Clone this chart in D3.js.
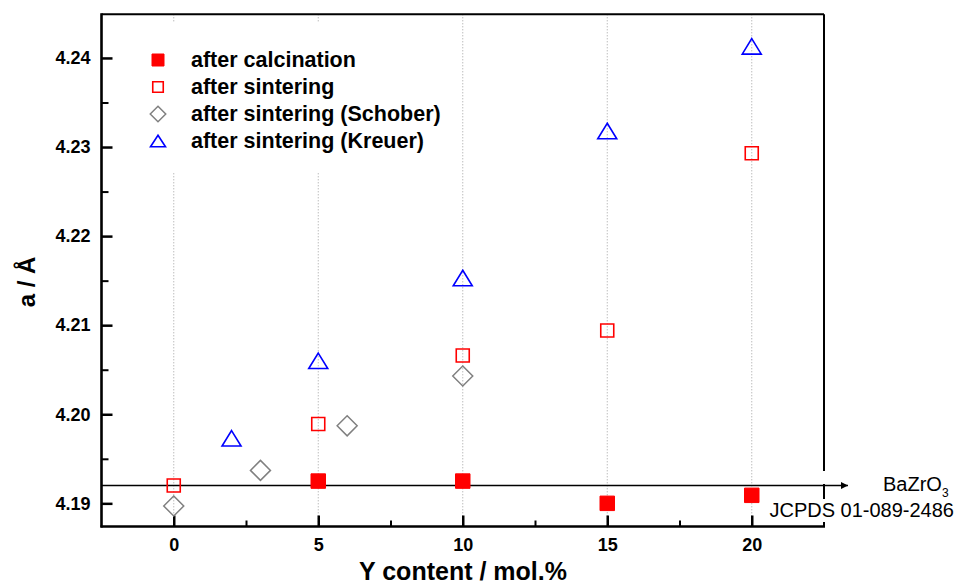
<!DOCTYPE html>
<html>
<head>
<meta charset="utf-8">
<script src="https://cdn.jsdelivr.net/npm/d3@7"></script>
<style>
  html, body { margin: 0; padding: 0; background: #fff; }
  svg { display: block; font-family: "Liberation Sans", Arial, sans-serif; }
</style>
</head>
<body>
<svg id="chart" width="957" height="585"></svg>
<script>
// Lattice parameter a of Y-doped BaZrO3 versus Y content
const xTickValues = [0, 5, 10, 15, 20];
const yTickValues = [4.19, 4.20, 4.21, 4.22, 4.23, 4.24];
const yTickLabels = ["4.19", "4.20", "4.21", "4.22", "4.23", "4.24"];

const calcinationX = [5, 10, 15, 20];
const calcinationY = [4.1925, 4.1925, 4.1900, 4.1909];

const sinteringX = [0, 5, 10, 15, 20];
const sinteringY = [4.1920, 4.1989, 4.2066, 4.2094, 4.2293];

const schoberX = [0, 3, 6, 10];
const schoberY = [4.1897, 4.1937, 4.1987, 4.2043];

const kreuerX = [2, 5, 10, 15, 20];
const kreuerY = [4.1973, 4.2060, 4.2153, 4.2318, 4.2413];

const referenceA = 4.192;
const referenceLabel = "BaZrO";
const referenceSub = "3";
const referenceCard = "JCPDS 01-089-2486";

const legendLabels = [
  "after calcination",
  "after sintering",
  "after sintering (Schober)",
  "after sintering (Kreuer)"
];

const svg = d3.select("#chart");
const plot = { left: 101.5, right: 824, top: 14.3, bottom: 526.5 };

const x = d3.scaleLinear().domain([-2.5, 22.5]).range([plot.left, plot.right]);
const y = d3.scaleLinear().domain([4.1874, 4.2449]).range([plot.bottom, plot.top]);

// vertical dotted grid at major x ticks
svg.append("g").selectAll("line").data(xTickValues).join("line")
  .attr("x1", d => x(d)).attr("x2", d => x(d))
  .attr("y1", plot.top).attr("y2", plot.bottom)
  .attr("stroke", "#a0a0a0").attr("stroke-width", 1)
  .attr("stroke-dasharray", "1,2");

// legend background hides the grid behind it
svg.append("rect").attr("x", 125).attr("y", 22).attr("width", 330).attr("height", 150)
  .attr("fill", "#fff");

// arrow head for the reference line
svg.append("defs").append("marker")
  .attr("id", "arrow").attr("viewBox", "0 0 10 10")
  .attr("refX", 10).attr("refY", 5)
  .attr("markerWidth", 9).attr("markerHeight", 7)
  .attr("markerUnits", "userSpaceOnUse")
  .attr("orient", "auto")
  .append("path").attr("d", "M0,0 L10,5 L0,10 Z").attr("fill", "#000");

// frame: top and right
svg.append("line").attr("x1", plot.left).attr("x2", plot.right).attr("y1", plot.top).attr("y2", plot.top)
  .attr("stroke", "#000").attr("stroke-width", 2);
svg.append("line").attr("x1", plot.right).attr("x2", plot.right).attr("y1", plot.top).attr("y2", plot.bottom)
  .attr("stroke", "#000").attr("stroke-width", 2);

// white boxes behind the reference annotation
svg.append("rect").attr("x", 818).attr("y", 471).attr("width", 139).attr("height", 13).attr("fill", "#fff");
svg.append("rect").attr("x", 766).attr("y", 499).attr("width", 191).attr("height", 23).attr("fill", "#fff");

svg.append("line")
  .attr("x1", plot.left).attr("x2", 848)
  .attr("y1", y(referenceA)).attr("y2", y(referenceA))
  .attr("stroke", "#000").attr("stroke-width", 1.5)
  .attr("marker-end", "url(#arrow)");

const refText = svg.append("text").attr("x", 883).attr("y", 491)
  .attr("font-size", 20).attr("fill", "#000");
refText.append("tspan").text(referenceLabel);
refText.append("tspan").attr("font-size", 12).attr("dy", 6).text(referenceSub);

svg.append("text").attr("x", 954).attr("y", 517).attr("text-anchor", "end")
  .attr("font-size", 20).attr("fill", "#000").text(referenceCard);

// axes (ticks pointing inward)
const xAxis = d3.axisBottom(x).tickValues(xTickValues).tickSize(-11).tickPadding(12)
  .tickFormat(d3.format("d"));
const gx = svg.append("g").attr("transform", `translate(0,${plot.bottom})`).call(xAxis);
gx.select(".domain").remove();
gx.selectAll(".tick line").attr("stroke", "#000").attr("stroke-width", 2.5);
gx.selectAll(".tick text").attr("font-size", 18).attr("font-weight", "bold")
  .attr("font-family", "Liberation Sans, Arial, sans-serif").attr("fill", "#000");

const gxMinor = svg.append("g").attr("transform", `translate(0,${plot.bottom})`)
  .call(d3.axisBottom(x).tickValues([2.5, 7.5, 12.5, 17.5]).tickSize(-6).tickFormat(""));
gxMinor.select(".domain").remove();
gxMinor.selectAll(".tick line").attr("stroke", "#000").attr("stroke-width", 2);

const yAxis = d3.axisLeft(y).tickValues(yTickValues).tickSize(-11).tickPadding(11)
  .tickFormat((d, i) => yTickLabels[i]);
const gy = svg.append("g").attr("transform", `translate(${plot.left},0)`).call(yAxis);
gy.select(".domain").remove();
gy.selectAll(".tick line").attr("stroke", "#000").attr("stroke-width", 2.5);
gy.selectAll(".tick text").attr("font-size", 18).attr("font-weight", "bold")
  .attr("font-family", "Liberation Sans, Arial, sans-serif").attr("fill", "#000");

const gyMinor = svg.append("g").attr("transform", `translate(${plot.left},0)`)
  .call(d3.axisLeft(y).tickValues([4.195, 4.205, 4.215, 4.225, 4.235]).tickSize(-7).tickFormat(""));
gyMinor.select(".domain").remove();
gyMinor.selectAll(".tick line").attr("stroke", "#000").attr("stroke-width", 2);

svg.append("line").attr("x1", plot.left - 1).attr("x2", plot.right + 1).attr("y1", plot.bottom).attr("y2", plot.bottom)
  .attr("stroke", "#000").attr("stroke-width", 2.6);
svg.append("line").attr("x1", plot.left).attr("x2", plot.left).attr("y1", plot.top - 1).attr("y2", plot.bottom + 1)
  .attr("stroke", "#000").attr("stroke-width", 2.6);

// axis titles
svg.append("text").attr("x", 463).attr("y", 580).attr("text-anchor", "middle")
  .attr("font-size", 25).attr("font-weight", "bold").text("Y content / mol.%");
svg.append("text").attr("transform", "translate(35,282) rotate(-90)").attr("text-anchor", "middle")
  .attr("font-size", 24).attr("font-weight", "bold").text("a / Å");

// symbol shapes
function square(s) { return `M${-s/2},${-s/2}h${s}v${s}h${-s}Z`; }
function diamond(s) { return `M0,${-s/2}L${s/2},0L0,${s/2}L${-s/2},0Z`; }
function triangle(w, h) { return `M0,${-h/2}L${w/2},${h/2}L${-w/2},${h/2}Z`; }

const series = [
  { xs: calcinationX, ys: calcinationY, path: square(14.5), legendPath: square(12),
    fill: "#ff0000", stroke: "#ff0000", sw: 1 },
  { xs: sinteringX, ys: sinteringY, path: square(13), legendPath: square(10.5),
    fill: "none", stroke: "#ff0000", sw: 1.6 },
  { xs: schoberX, ys: schoberY, path: diamond(20), legendPath: diamond(15.5),
    fill: "none", stroke: "#808080", sw: 1.5 },
  { xs: kreuerX, ys: kreuerY, path: triangle(19, 15.5), legendPath: triangle(15, 11.5),
    fill: "none", stroke: "#0000ff", sw: 1.6 }
];

// data points (open symbols first, filled calcination on top)
[1, 2, 3, 0].forEach(k => {
  const s = series[k];
  svg.append("g").selectAll("path").data(s.xs.map((d, i) => [d, s.ys[i]])).join("path")
    .attr("transform", d => `translate(${x(d[0])},${y(d[1])})`)
    .attr("d", s.path)
    .attr("fill", s.fill).attr("stroke", s.stroke).attr("stroke-width", s.sw);
});

// legend
const legendRows = [60, 87, 114, 141];
series.forEach((s, i) => {
  svg.append("path").attr("transform", `translate(158,${legendRows[i]})`)
    .attr("d", s.legendPath).attr("fill", s.fill).attr("stroke", s.stroke)
    .attr("stroke-width", s.sw);
  svg.append("text").attr("x", 191).attr("y", legendRows[i] + 7)
    .attr("font-size", 21.5).attr("font-weight", "bold").text(legendLabels[i]);
});
</script>
</body>
</html>
